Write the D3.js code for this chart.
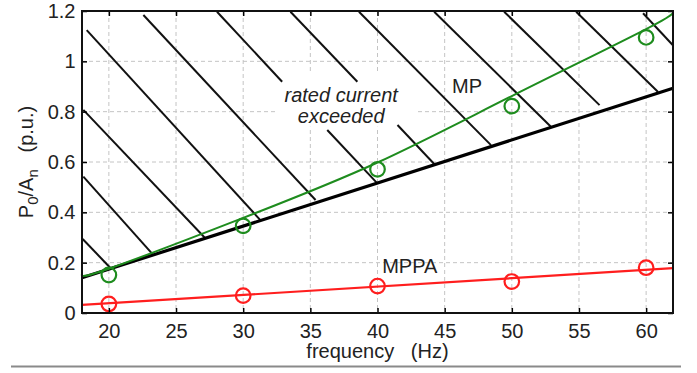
<!DOCTYPE html>
<html>
<head>
<meta charset="utf-8">
<script src="https://cdn.jsdelivr.net/npm/d3@7"></script>
<style>
  body { margin: 0; background: #fff; }
  svg { display: block; font-family: "Liberation Sans", Arial, sans-serif; }
</style>
</head>
<body>
<div id="chart"></div>
<script>
// x ticks and y ticks
const freqTicks = [20, 25, 30, 35, 40, 45, 50, 55, 60];
const puTicks = [0, 0.2, 0.4, 0.6, 0.8, 1, 1.2];

// MP curve (model)
const mpFreq = [18, 20, 30, 40, 50, 60, 62];
const mpModel = [0.155, 0.176, 0.378, 0.598, 0.862, 1.128, 1.197];

// rated current limit (black line)
const limitFreq = [18, 62];
const limitPu = [0.14, 0.893];

// MPPA line (model)
const mppaFreq = [18, 62];
const mppaModel = [0.032, 0.178];

// measured points
const measFreq = [20, 30, 40, 50, 60];
const mpMeas = [0.151, 0.346, 0.571, 0.822, 1.095];
const mppaMeas = [0.036, 0.069, 0.107, 0.125, 0.18];

// hatch segments [f0, v0, f1, v1]
const hatch = [
  [18.35, 1.124, 31.28, 0.369],
  [22.57, 1.184, 35.39, 0.449],
  [28.05, 1.197, 32.9, 0.919],
  [36.26, 0.727, 39.99, 0.515],
  [33.52, 1.197, 38.5, 0.919],
  [41.49, 0.747, 44.22, 0.592],
  [38.62, 1.197, 48.45, 0.667],
  [44.22, 1.197, 52.93, 0.739],
  [49.43, 1.197, 56.53, 0.826],
  [54.79, 1.197, 60.89, 0.878],
  [59.77, 1.191, 62.03, 1.062],
  [18.1, 0.807, 27.18, 0.297],
  [18.1, 0.542, 23.32, 0.23],
  [18.05, 0.294, 20.1, 0.18],
];

const W = 697, H = 373;
const margin = { left: 82, top: 11, right: 24, bottom: 60 };
const iw = W - margin.left - margin.right;
const ih = H - margin.top - margin.bottom;

const green = "#1e8c1e";
const red = "#ff1e1e";

const x = d3.scaleLinear().domain([18, 62]).range([0, iw]);
const y = d3.scaleLinear().domain([0, 1.2]).range([ih, 0]);

const svg = d3.select("#chart").append("svg")
  .attr("width", W).attr("height", H);

const g = svg.append("g")
  .attr("transform", `translate(${margin.left},${margin.top})`);

// grid
const grid = g.append("g")
  .attr("stroke", "#c4c4c4")
  .attr("stroke-width", 1)
  .attr("stroke-dasharray", "4,3");
grid.selectAll("line.v")
  .data(freqTicks)
  .join("line")
  .attr("class", "v")
  .attr("x1", (d) => x(d)).attr("x2", (d) => x(d))
  .attr("y1", 0).attr("y2", ih);
grid.selectAll("line.h")
  .data(puTicks.slice(1, -1))
  .join("line")
  .attr("class", "h")
  .attr("y1", (d) => y(d)).attr("y2", (d) => y(d))
  .attr("x1", 0).attr("x2", iw);

// white box behind the annotation
g.append("rect")
  .attr("x", x(32.57)).attr("y", y(0.957))
  .attr("width", x(42.86) - x(32.57))
  .attr("height", y(0.74) - y(0.957))
  .attr("fill", "#fff");

// hatch
g.append("g")
  .attr("stroke", "#111")
  .attr("stroke-width", 2)
  .selectAll("line")
  .data(hatch)
  .join("line")
  .attr("x1", (d) => x(d[0])).attr("y1", (d) => y(d[1]))
  .attr("x2", (d) => x(d[2])).attr("y2", (d) => y(d[3]));

// black limit line
g.append("path")
  .datum(d3.zip(limitFreq, limitPu))
  .attr("fill", "none")
  .attr("stroke", "#000")
  .attr("stroke-width", 3.2)
  .attr("d", d3.line().x((d) => x(d[0])).y((d) => y(d[1])));

// MP model
g.append("path")
  .datum(d3.zip(mpFreq, mpModel))
  .attr("fill", "none")
  .attr("stroke", green)
  .attr("stroke-width", 2)
  .attr("d", d3.line().curve(d3.curveNatural).x((d) => x(d[0])).y((d) => y(d[1])));

// MPPA model
g.append("path")
  .datum(d3.zip(mppaFreq, mppaModel))
  .attr("fill", "none")
  .attr("stroke", red)
  .attr("stroke-width", 2.2)
  .attr("d", d3.line().x((d) => x(d[0])).y((d) => y(d[1])));

// measured circles
g.append("g")
  .selectAll("circle")
  .data(d3.zip(measFreq, mpMeas))
  .join("circle")
  .attr("cx", (d) => x(d[0])).attr("cy", (d) => y(d[1]))
  .attr("r", 7.3)
  .attr("fill", "none")
  .attr("stroke", green)
  .attr("stroke-width", 2.2);

g.append("g")
  .selectAll("circle")
  .data(d3.zip(measFreq, mppaMeas))
  .join("circle")
  .attr("cx", (d) => x(d[0])).attr("cy", (d) => y(d[1]))
  .attr("r", 7.3)
  .attr("fill", "none")
  .attr("stroke", red)
  .attr("stroke-width", 2.2);

// axes (ticks inside)
function styleAxis(sel) {
  sel.select(".domain").remove();
  sel.selectAll(".tick line").attr("stroke", "#000").attr("stroke-width", 1.5);
  sel.selectAll(".tick text")
    .attr("fill", "#222")
    .style("font-size", "20px")
    .style("font-family", "'Liberation Sans', Arial, sans-serif");
}

g.append("g")
  .attr("transform", `translate(0,${ih})`)
  .call(d3.axisBottom(x).tickValues(freqTicks).tickSizeInner(-5).tickSizeOuter(0).tickPadding(11))
  .call(styleAxis);

g.append("g")
  .call(d3.axisTop(x).tickValues(freqTicks).tickSizeInner(-5).tickSizeOuter(0).tickFormat(""))
  .call(styleAxis);

g.append("g")
  .call(d3.axisLeft(y).tickValues(puTicks).tickFormat(d3.format("~g")).tickSizeInner(-5).tickSizeOuter(0).tickPadding(6.5))
  .call(styleAxis);

g.append("g")
  .attr("transform", `translate(${iw},0)`)
  .call(d3.axisRight(y).tickValues(puTicks).tickSizeInner(-5).tickSizeOuter(0).tickFormat(""))
  .call(styleAxis);

// frame
g.append("rect")
  .attr("width", iw).attr("height", ih)
  .attr("fill", "none")
  .attr("stroke", "#111")
  .attr("stroke-width", 2);

// annotations
const note = g.append("g")
  .attr("fill", "#222")
  .style("font-size", "20px")
  .style("font-style", "italic")
  .attr("text-anchor", "middle");
note.append("text").attr("x", x(37.3)).attr("y", y(0.84)).text("rated current");
note.append("text").attr("x", x(37.3)).attr("y", y(0.754)).text("exceeded");

g.append("text")
  .attr("x", x(45.55)).attr("y", y(0.874))
  .attr("fill", "#222").style("font-size", "20px")
  .text("MP");

g.append("text")
  .attr("x", x(40.35)).attr("y", y(0.159))
  .attr("fill", "#222").style("font-size", "20px")
  .text("MPPA");

// axis titles
svg.append("text")
  .attr("x", margin.left + iw / 2)
  .attr("y", 358)
  .attr("text-anchor", "middle")
  .attr("fill", "#222")
  .style("font-size", "20px")
  .style("white-space", "pre")
  .text("frequency   (Hz)");

const yl = svg.append("text")
  .attr("transform", `translate(33,${margin.top + ih / 2}) rotate(-90)`)
  .attr("text-anchor", "middle")
  .attr("fill", "#222")
  .style("font-size", "20px")
  .style("white-space", "pre");
yl.append("tspan").text("P");
yl.append("tspan").attr("dy", 5).style("font-size", "15px").text("0");
yl.append("tspan").attr("dy", -5).text("/A");
yl.append("tspan").attr("dy", 5).style("font-size", "15px").text("n");
yl.append("tspan").attr("dy", -5).text("   (p.u.)");

// slide border line at the bottom
svg.append("line")
  .attr("x1", 11).attr("x2", 681)
  .attr("y1", 366.5).attr("y2", 366.5)
  .attr("stroke", "#8a8a8a")
  .attr("stroke-width", 2);
</script>
</body>
</html>
